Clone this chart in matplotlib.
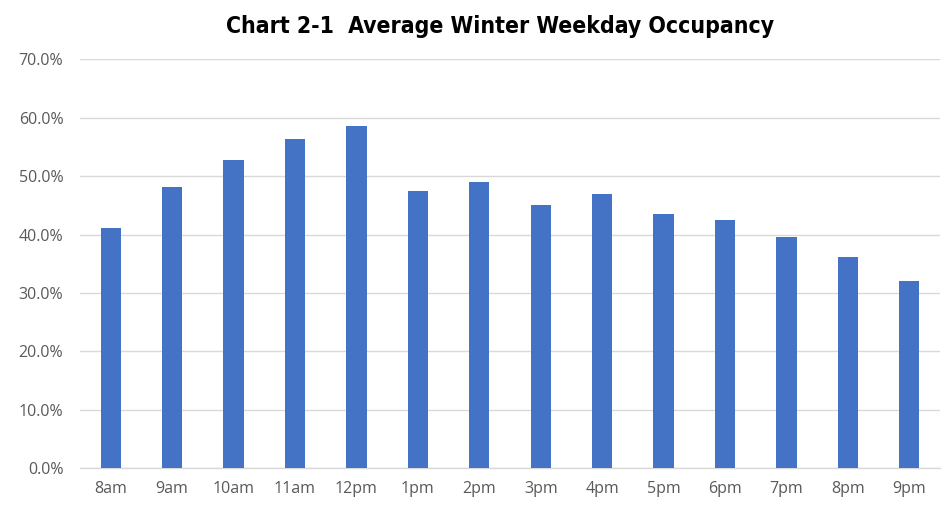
import matplotlib
matplotlib.use("Agg")
import matplotlib.pyplot as plt
from matplotlib.ticker import FuncFormatter
from matplotlib import font_manager

categories = ["8am", "9am", "10am", "11am", "12pm", "1pm", "2pm", "3pm",
              "4pm", "5pm", "6pm", "7pm", "8pm", "9pm"]
occupancy = [41.1, 48.2, 52.7, 56.3, 58.5, 47.5, 49.0, 45.0,
             46.9, 43.5, 42.5, 39.6, 36.1, 32.1]
title = "Chart 2-1  Average Winter Weekday Occupancy"

names = {f.name for f in font_manager.fontManager.ttflist}
if "Liberation Sans Narrow" in names:
    title_kw = dict(fontfamily="Liberation Sans Narrow", fontsize=18)
else:
    title_kw = dict(fontfamily="DejaVu Sans", fontstretch="condensed", fontsize=16.5)

fig = plt.figure(figsize=(9.45, 5.15), dpi=100)
ax = fig.add_axes([0.0847, 0.0907, 0.91, 0.7942])

x = list(range(len(categories)))
ax.bar(x, occupancy, width=0.33, color="#4472C4", zorder=3)

ax.set_xlim(-0.5, len(categories) - 0.5)
ax.set_ylim(0, 70)
ax.set_yticks([0, 10, 20, 30, 40, 50, 60, 70])
ax.yaxis.set_major_formatter(FuncFormatter(lambda v, p: f"{v:.1f}%"))
ax.set_xticks(x)
ax.set_xticklabels(categories)

ax.grid(axis="y", color="#d9d9d9", linewidth=1.0, zorder=0)
for s in ["top", "right", "left"]:
    ax.spines[s].set_visible(False)
ax.spines["bottom"].set_color("#d9d9d9")
ax.spines["bottom"].set_linewidth(1.0)
ax.tick_params(axis="both", length=0, colors="#595959", labelsize=11.5)
ax.tick_params(axis="x", pad=9)
ax.tick_params(axis="y", pad=12)
for lab in ax.get_xticklabels() + ax.get_yticklabels():
    lab.set_fontfamily("Open Sans")

fig.text(0.529, 0.948, title, ha="center", va="center",
         fontweight="bold", color="#000000", **title_kw)

fig.savefig("out.png", dpi=100)
